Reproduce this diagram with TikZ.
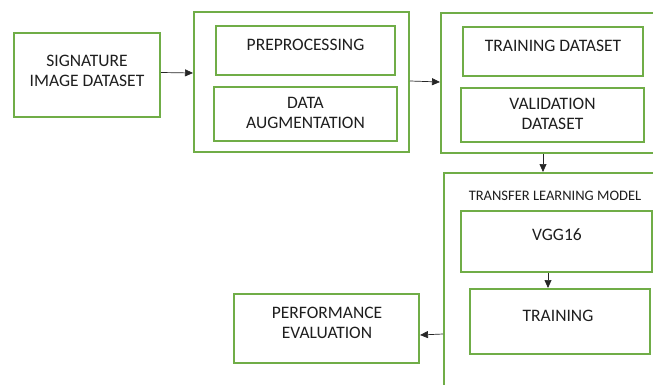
\documentclass[tikz,border=0pt]{standalone}
\usepackage{fontspec}
\setmainfont{Carlito}
\usetikzlibrary{arrows.meta,calc}
\definecolor{boxgreen}{HTML}{70AD47}
\definecolor{txt}{HTML}{1E1E1E}
\begin{document}
\begin{tikzpicture}[x=1pt,y=-1pt,
  box/.style={draw=boxgreen,line width=2pt,inner sep=0pt,rectangle},
  lbl/.style={text=txt,font=\fontsize{17.5}{20}\selectfont,align=center,inner sep=0pt},
  small/.style={text=txt,font=\fontsize{14.5}{16}\selectfont,inner sep=0pt},
  arr/.style={-{Triangle[length=8pt,width=7pt]},line width=0.7pt,black!85}]
\useasboundingbox (0,0) rectangle (653,385);
\fill[white] (0,0) rectangle (653,385);
\clip (0,0) rectangle (653,385);
% boxes
\node[box,minimum width=146pt,minimum height=84pt] (sig) at (87,75) {};
\node[lbl] (sigt) at (87,70.5) {SIGNATURE\\IMAGE DATASET};

\node[box,minimum width=215pt,minimum height=140pt] (g1) at (301.5,82) {};
\node[box,minimum width=179pt,minimum height=49pt] (pre) at (305.5,50.5) {};
\node[lbl] (pret) at (305.5,44.5) {PREPROCESSING};
\node[box,minimum width=183pt,minimum height=54pt] (aug) at (305.5,114) {};
\node[lbl] (augt) at (305.5,113) {DATA\\AUGMENTATION};

\node[box,minimum width=259pt,minimum height=140pt] (g2) at (570.5,83) {};
\node[box,minimum width=180pt,minimum height=49pt] (tds) at (553,51.5) {};
\node[lbl] (tdst) at (553,45.5) {TRAINING DATASET};
\node[box,minimum width=183pt,minimum height=54pt] (val) at (552.5,115) {};
\node[lbl] (valt) at (552.5,113.5) {VALIDATION\\DATASET};

\node[box,minimum width=256pt,minimum height=260pt] (g3) at (572,303) {};
\node[small] (tlm) at (555,196) {TRANSFER LEARNING MODEL};
\node[box,minimum width=191pt,minimum height=61pt] (vgg) at (556.5,241.5) {};
\node[lbl] (vggt) at (557,235) {VGG16};
\node[box,minimum width=180pt,minimum height=65pt] (trn) at (560,321.5) {};
\node[lbl] (trnt) at (558,316) {TRAINING};

\node[box,minimum width=185pt,minimum height=69pt] (perf) at (326.5,328.5) {};
\node[lbl] (perft) at (327,323) {PERFORMANCE\\EVALUATION};

% connectors
\draw[arr] (sig.east |- 0,72.5) -- (g1.west |- 0,73);
\draw[arr] (g1.east |- 0,81) -- (g2.west |- 0,82);
\draw[arr] (g2.south -| 543,0) -- (g3.north -| 543,0);
\draw[arr] (vgg.south -| 548,0) -- (trn.north -| 548,0);
\draw[arr] (g3.west |- 0,334) -- (perf.east |- 0,335);
\end{tikzpicture}
\end{document}
